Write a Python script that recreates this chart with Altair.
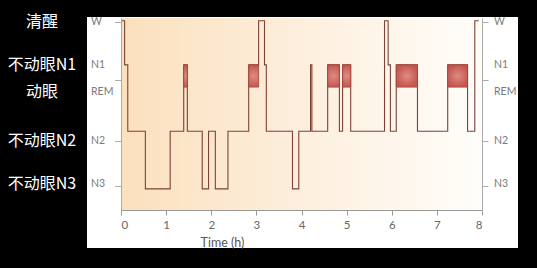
import altair as alt
import pandas as pd

# ---- data ----
# hypnogram: stage starting at each time (hours)
seg_times = [0.00, 0.08, 0.15, 0.54, 1.09, 1.39, 1.47, 1.80, 1.94, 2.09, 2.37, 2.83,
             3.05, 3.18, 3.22, 3.80, 3.94, 4.20, 4.23, 4.58, 4.84, 4.91, 5.09, 5.84,
             5.92, 5.97, 6.10, 6.57, 7.24, 7.68, 7.84, 7.93]
seg_stages = ["W", "N1", "N2", "N3", "N2", "REM", "N2", "N3", "N2", "N3", "N2", "REM",
              "W", "N1", "N2", "N3", "N2", "N1", "N2", "REM", "N2", "REM", "N2", "W",
              "N1", "N2", "REM", "N2", "REM", "N2", "W", "W"]

# vertical level of each stage on the hypnogram (REM drawn as a box between N1 and REM_low)
stage_level = {"W": 4.93, "N1": 3.78, "REM": 3.78, "N2": 2.05, "N3": 0.55}
rem_low = 3.20

# REM periods (start, end) in hours
rem_start = [1.39, 2.83, 4.58, 4.91, 6.10, 7.24]
rem_end = [1.47, 3.05, 4.84, 5.09, 6.57, 7.68]

# axis ticks and labels
tick_values = [4.90, 3.39, 1.80, 0.63]
label_text = ["W", "N1", "REM", "N2", "N3"]
label_y = [4.90, 3.78, 3.07, 1.80, 0.68]
cn_text = ["清醒", "不动眼N1", "动眼", "不动眼N2", "不动眼N3"]
x_ticks = [0, 1, 2, 3, 4, 5, 6, 7, 8]

W, H = 361, 192

line_df = pd.DataFrame({"t": seg_times, "level": [stage_level[s] for s in seg_stages]})
rem_df = pd.DataFrame({"s": rem_start, "e": rem_end,
                       "top": [stage_level["N1"]] * len(rem_start),
                       "bot": [rem_low] * len(rem_start)})
lab_df = pd.DataFrame({"label": label_text, "y": label_y, "cn": cn_text})
dummy = pd.DataFrame({"a": [0]})

xscale = alt.Scale(domain=[0, 8], nice=False, zero=False)
yscale = alt.Scale(domain=[0, 5], nice=False, zero=False)

x_axis = alt.Axis(values=x_ticks, title="Time (h)", grid=False, zindex=1,
                  titleX=101, titleY=32, titleBaseline="middle", titleAlign="center")

def y_axis(orient):
    return alt.Axis(values=tick_values, labels=False, title=None, grid=False,
                    zindex=1, domainColor="#aaa", tickColor="#aaa", tickSize=6,
                    orient=orient)

panel = alt.Chart(dummy).mark_rect(fill="white").encode(
    x=alt.value(-34), x2=alt.value(397), y=alt.value(-1), y2=alt.value(230))

grad = alt.Chart(dummy).mark_rect(
    fill=alt.LinearGradient(gradient="linear", x1=0, y1=0, x2=1, y2=0,
                            stops=[alt.GradientStop(offset=0, color="#fbe0bd"),
                                   alt.GradientStop(offset=0.5, color="#fdefdd"),
                                   alt.GradientStop(offset=1, color="#fffdfa")])
).encode(x=alt.value(0), x2=alt.value(W), y=alt.value(0), y2=alt.value(H))

line = alt.Chart(line_df).mark_line(
    interpolate="step-after", color="#7e4236", strokeWidth=1.1
).encode(
    x=alt.X("t:Q", scale=xscale, axis=x_axis),
    y=alt.Y("level:Q", scale=yscale, axis=y_axis("left")),
)

right_axis = alt.Chart(line_df).mark_line(opacity=0).encode(
    x=alt.X("t:Q", scale=xscale, axis=x_axis),
    y=alt.Y("level:Q", scale=yscale, axis=y_axis("right")),
)

rem = alt.Chart(rem_df).mark_rect(
    fill=alt.RadialGradient(gradient="radial",
                            stops=[alt.GradientStop(offset=0, color="#dd8c82"),
                                   alt.GradientStop(offset=1, color="#c4564f")]),
    stroke="#a5443d", strokeWidth=0.8
).encode(
    x=alt.X("s:Q", scale=xscale, axis=x_axis), x2="e:Q",
    y=alt.Y("top:Q", scale=yscale, axis=y_axis("left")), y2="bot:Q",
)

left_lab = alt.Chart(lab_df).mark_text(
    align="left", baseline="middle", font="Lato", fontSize=10.5, color="#7a7a7a"
).encode(x=alt.value(-30), y=alt.Y("y:Q", scale=yscale, axis=y_axis("left")),
         text="label:N")

right_lab = alt.Chart(lab_df).mark_text(
    align="left", baseline="middle", font="Lato", fontSize=10.5, color="#7a7a7a"
).encode(x=alt.value(373), y=alt.Y("y:Q", scale=yscale, axis=y_axis("left")),
         text="label:N")

cn_lab = alt.Chart(lab_df).mark_text(
    align="center", baseline="middle", font="Noto Sans CJK SC", fontSize=16,
    color="white"
).encode(x=alt.value(-79), y=alt.Y("y:Q", scale=yscale, axis=y_axis("left")),
         text="cn:N")

chart = alt.layer(
    panel, grad, line, rem, right_axis, left_lab, right_lab, cn_lab
).resolve_axis(y="independent").properties(
    width=W, height=H,
    autosize=alt.AutoSizeParams(type="none"),
    padding={"left": 121, "top": 18, "right": 55, "bottom": 58},
).configure(background="black").configure_view(stroke=None).configure_axisX(
    domainColor="#999", tickColor="#999", tickSize=5,
    labelColor="#666", labelFont="Lato", labelFontSize=11.5, labelPadding=4,
    titleFont="Lato", titleFontSize=12.5, titleFontWeight="normal", titleColor="#555",
)

chart.save("out.html", embed_options={"renderer": "svg", "actions": False})
